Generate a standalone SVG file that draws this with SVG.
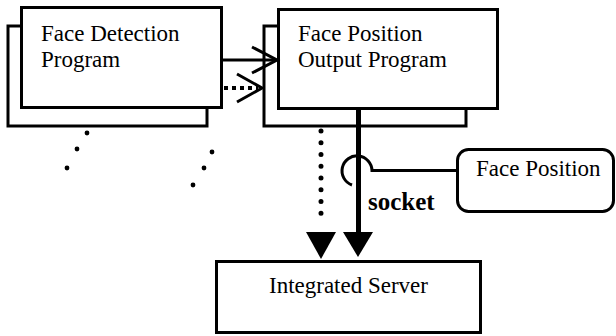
<svg xmlns="http://www.w3.org/2000/svg" width="616" height="336" viewBox="0 0 616 336">
<style>
.box{fill:#fff;stroke:#000;stroke-width:3}
.t{font-family:"Liberation Serif","Times New Roman",serif;font-size:23px;fill:#000}
.b{font-weight:bold;font-size:25px}
.ln{fill:none;stroke:#000;stroke-width:3}
.dot{fill:#000}
</style>
<rect width="616" height="336" fill="#fff"/>
<g id="face-detection">
<rect class="box" x="8" y="26" width="199" height="100"/>
<rect class="box" x="21.5" y="7.5" width="200" height="100"/>
<text class="t" x="41" y="41">Face Detection</text>
<text class="t" x="41" y="67">Program</text>
</g>
<g id="face-position-output">
<rect class="box" x="264" y="26" width="202" height="100"/>
<rect class="box" x="278.5" y="9.5" width="219" height="99"/>
<text class="t" x="298" y="41">Face Position</text>
<text class="t" x="298" y="67">Output Program</text>
</g>
<g id="face-position">
<rect class="box" x="457.5" y="149.5" width="156" height="62" rx="11"/>
<text class="t" x="476" y="176">Face Position</text>
</g>
<g id="integrated-server">
<rect class="box" x="216.5" y="261.5" width="264" height="71"/>
<text class="t" x="348.5" y="293" text-anchor="middle">Integrated Server</text>
</g>
<g id="ellipsis">
<circle class="dot" cx="87" cy="133" r="2.4"/>
<circle class="dot" cx="77" cy="149" r="2.4"/>
<circle class="dot" cx="67" cy="168" r="2.4"/>
<circle class="dot" cx="212" cy="152" r="2.4"/>
<circle class="dot" cx="204" cy="168" r="2.4"/>
<circle class="dot" cx="193" cy="185" r="2.4"/>
</g>
<g id="connectors">
<line class="ln" x1="222" y1="60" x2="276" y2="60"/>
<polyline class="ln" points="252,47 277,60 252,73" stroke-width="3.8"/>
<line x1="224" y1="88" x2="258" y2="88" stroke="#000" stroke-width="4" stroke-dasharray="4 4"/>
<polyline class="ln" points="237,74 262,88 237,102" stroke-width="3.8"/>
<line x1="321" y1="131" x2="321" y2="225" stroke="#000" stroke-width="5" stroke-linecap="round" stroke-dasharray="0 11.75"/>
<polygon points="306,232 336,232 321,259" fill="#000"/>
<line x1="358.5" y1="109" x2="358.5" y2="234" stroke="#000" stroke-width="5"/>
<polygon points="343,232 373,232 358,257" fill="#000"/>
<path class="ln" d="M457 170.5 H372 A15 15 0 1 0 352 185"/>
<text class="t b" x="368" y="210">socket</text>
</g>
</svg>
